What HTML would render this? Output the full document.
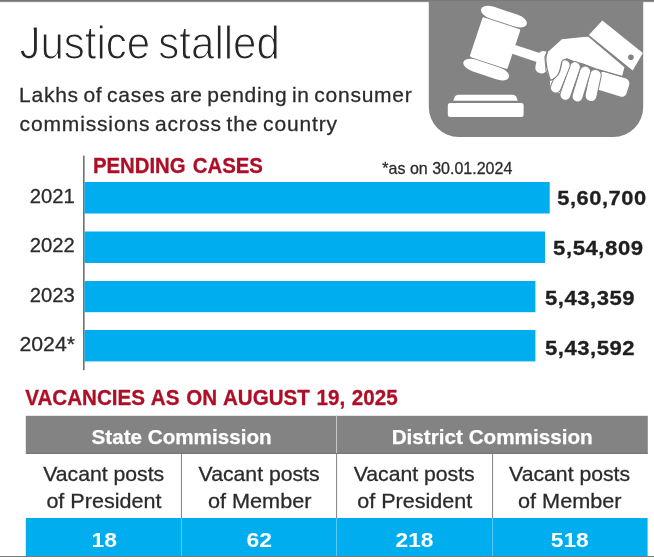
<!DOCTYPE html>
<html lang="en">
<head>
<meta charset="utf-8">
<title>Justice stalled</title>
<style>
  html, body { margin: 0; padding: 0; background: #fff; }
  body { width: 654px; height: 560px; overflow: hidden; }
  svg { display: block; will-change: transform; }
  text { font-family: "Liberation Sans", sans-serif; }
  .b { font-weight: bold; }
  .red { fill: #ae0f27; }
  .dk { fill: #2b2b2b; stroke: #2b2b2b; stroke-width: 0.28px; }
  .w { fill: #fff; }
</style>
</head>
<body>
<svg width="654" height="560" viewBox="0 0 654 560">
  <defs>
    <linearGradient id="topb" x1="0" y1="0" x2="0" y2="1">
      <stop offset="0" stop-color="#666"/>
      <stop offset="1" stop-color="#a5a5a5"/>
    </linearGradient>
  </defs>
  <rect x="0" y="0" width="654" height="560" fill="#fff"/>

  <!-- top rule -->
  <rect x="0" y="0" width="654" height="2.2" fill="url(#topb)"/>

  <!-- icon box -->
  <path d="M428.8,0 H643.2 V107 A30,30 0 0 1 613.2,137 H458.8 A30,30 0 0 1 428.8,107 Z" fill="#838383"/>
  <rect x="428.8" y="0" width="214.4" height="1" fill="#7a7a7a"/>

  <!-- gavel icon -->
  <g id="icon" fill="#fff">
    <!-- mallet head : crop A frame -->
    <g transform="translate(455,0) scale(0.15175)">
      <g transform="translate(264,284) rotate(18.5)">
        <rect x="125" y="-31" width="190" height="62"/>
        <rect x="-131" y="-138" width="262" height="276" rx="10"/>
        <rect x="-158" y="-224" width="316" height="80" rx="75" ry="40"/>
        <rect x="-158" y="144" width="316" height="80" rx="75" ry="40"/>
      </g>
    </g>
    <!-- sound block -->
    <path d="M458.5,94.8 H512.5 Q515.5,94.8 516.6,97.6 L517.8,100.8 H453.2 L454.4,97.6 Q455.5,94.8 458.5,94.8 Z"/>
    <rect x="447.8" y="103" width="75.8" height="14" rx="2.5"/>
    <!-- handle end -->
    <rect x="-16" y="-9.4" width="32" height="18.8" rx="5" transform="translate(612.6,84.3) rotate(17)"/>
    <!-- cuff -->
    <polygon points="602.3,20.4 642.9,52.9 632.7,70.4 588.9,35"/>
    <circle cx="630.9" cy="57.3" r="2.8" fill="#838383"/>
    <!-- ferrule -->
    <rect x="-6" y="-10.6" width="12" height="22.4" rx="5.5" transform="translate(542.6,61.6) rotate(12)"/>
    <!-- hand back -->
    <path d="M561.5,38.7 L588.4,35.9 L625.2,67 L622.6,76.6 L595.7,68.9 L582.3,63.8 L574.2,61.8 L566.9,58.8 L562.2,60.6 L560.2,74.2 L550.1,80.7 L546.1,70.2 L545,56.8 L547.4,51.4 Z" stroke="#838383" stroke-width="1.3" stroke-linejoin="round"/>
    <!-- fingers -->
    <path d="M549.1,79.4 L550.2,89.6 Q551,91.6 555,92.8 L560,93.9 L564,82.5 L555.6,78 Z" stroke="#838383" stroke-width="1" stroke-linejoin="round"/>
    <g stroke="#838383" stroke-width="1">
      <rect x="-5.9" y="-15.6" width="11.8" height="32.4" rx="5.6" transform="translate(593.3,84.9) rotate(12)"/>
      <rect x="-5.45" y="-17.5" width="10.9" height="37" rx="5.4" transform="translate(581.6,83.1) rotate(17)"/>
      <rect x="-5.45" y="-19.1" width="10.9" height="40.2" rx="5.4" transform="translate(570.5,80) rotate(19)"/>
      <rect x="-5.3" y="-16.7" width="10.6" height="35" rx="5.3" transform="translate(560.6,75.7) rotate(22)"/>
    </g>
    <!-- thumb -->
    <path d="M547.6,52 L545.4,57 L546.4,70 L550.3,80.3 C558,77 560,72 561.9,61 L564,50 Z" stroke="none"/>
    <path d="M547.6,52 C544.6,56 545.6,66 550.3,80.3 C558.5,77.5 560.3,72 561.9,61.2" fill="none" stroke="#838383" stroke-width="1.35"/>
  </g>

  <!-- title -->
  <text x="19.4" y="59.2" font-size="46.6" fill="#262626" stroke="#fff" stroke-width="1.15" style="word-spacing:-4px" textLength="260.5" lengthAdjust="spacingAndGlyphs">Justice stalled</text>

  <rect x="26" y="26" width="7.7" height="4.2" fill="#fff"/>

  <!-- sub -->
  <text x="19.1" y="102" font-size="21" class="dk" style="word-spacing:-2px;letter-spacing:0.745px">Lakhs of cases are pending in consumer</text>
  <text x="19.6" y="131.3" font-size="21" class="dk" style="word-spacing:-2px;letter-spacing:0.85px">commissions across the country</text>

  <!-- chart -->
  <rect x="83" y="155.6" width="1.6" height="214.6" fill="#707070"/>
  <g fill="#00adee">
    <rect x="84.5" y="182" width="465.2" height="31.5"/>
    <rect x="84.5" y="231.5" width="460.5" height="31.5"/>
    <rect x="84.5" y="281" width="450.9" height="31.2"/>
    <rect x="84.5" y="330" width="450.9" height="31.4"/>
  </g>
  <text x="92.9" y="173.4" font-size="21.6" class="b red" stroke="#ae0f27" stroke-width="0.3" style="word-spacing:1.5px" textLength="170" lengthAdjust="spacingAndGlyphs">PENDING CASES</text>
  <text x="382.3" y="173.5" font-size="16.2" class="dk" textLength="130" lengthAdjust="spacingAndGlyphs">*as on 30.01.2024</text>

  <g font-size="19.5" class="dk" text-anchor="end">
    <text x="74.7" y="202.7" textLength="45" lengthAdjust="spacingAndGlyphs">2021</text>
    <text x="74.7" y="252.1" textLength="45" lengthAdjust="spacingAndGlyphs">2022</text>
    <text x="74.7" y="301.8" textLength="45" lengthAdjust="spacingAndGlyphs">2023</text>
    <text x="75" y="351.4" textLength="55.5" lengthAdjust="spacingAndGlyphs">2024*</text>
  </g>
  <g font-size="20.2" class="b" fill="#1f1f1f" stroke="#1f1f1f" stroke-width="0.3" style="letter-spacing:0.5px">
    <text x="557.2" y="204.8" textLength="89.5" lengthAdjust="spacingAndGlyphs">5,60,700</text>
    <text x="553.1" y="254.6" textLength="90.5" lengthAdjust="spacingAndGlyphs">5,54,809</text>
    <text x="544.9" y="304.8" textLength="90.3" lengthAdjust="spacingAndGlyphs">5,43,359</text>
    <text x="544.9" y="355" textLength="90.3" lengthAdjust="spacingAndGlyphs">5,43,592</text>
  </g>

  <!-- vacancies -->
  <text x="25.2" y="404.7" font-size="21.6" class="b red" stroke="#ae0f27" stroke-width="0.3" style="word-spacing:1px" textLength="372.5" lengthAdjust="spacingAndGlyphs">VACANCIES AS ON AUGUST 19, 2025</text>

  <rect x="25.8" y="415.8" width="622" height="38" fill="#838383"/>
  <rect x="25.8" y="452.9" width="622" height="0.9" fill="#707070"/>
  <rect x="336" y="415.8" width="1.1" height="37.2" fill="#c4c4c4"/>
  <g font-size="21" class="b w" text-anchor="middle" stroke="#fff" stroke-width="0.25">
    <text x="181.6" y="443.7" textLength="180" lengthAdjust="spacingAndGlyphs">State Commission</text>
    <text x="492.2" y="443.7" textLength="201" lengthAdjust="spacingAndGlyphs">District Commission</text>
  </g>

  <g fill="#808080">
    <rect x="180.9" y="453.8" width="1" height="64.4"/>
    <rect x="336.1" y="453.8" width="1" height="64.4"/>
    <rect x="492.1" y="453.8" width="1" height="64.4"/>
  </g>

  <g font-size="20.4" class="dk" text-anchor="middle">
    <text x="103.7" y="481.2" textLength="121" lengthAdjust="spacingAndGlyphs">Vacant posts</text>
    <text x="103.9" y="507.7" textLength="115" lengthAdjust="spacingAndGlyphs">of President</text>
    <text x="259.1" y="481.2" textLength="121" lengthAdjust="spacingAndGlyphs">Vacant posts</text>
    <text x="259.7" y="507.7" textLength="103.5" lengthAdjust="spacingAndGlyphs">of Member</text>
    <text x="414.2" y="481.2" textLength="121" lengthAdjust="spacingAndGlyphs">Vacant posts</text>
    <text x="414.8" y="507.7" textLength="115" lengthAdjust="spacingAndGlyphs">of President</text>
    <text x="569.6" y="481.2" textLength="121" lengthAdjust="spacingAndGlyphs">Vacant posts</text>
    <text x="569.8" y="507.7" textLength="103.5" lengthAdjust="spacingAndGlyphs">of Member</text>
  </g>

  <rect x="25.8" y="518" width="621.8" height="38.2" fill="#00adee"/>
  <g fill="#5fcaf3">
    <rect x="180.9" y="518" width="1" height="38"/>
    <rect x="336.1" y="518" width="1" height="38"/>
    <rect x="492.1" y="518" width="1" height="38"/>
  </g>
  <g font-size="19.5" class="b w" text-anchor="middle">
    <text x="104.3" y="546.7" textLength="25.5" lengthAdjust="spacingAndGlyphs">18</text>
    <text x="259.3" y="546.7" textLength="25.5" lengthAdjust="spacingAndGlyphs">62</text>
    <text x="414.5" y="546.7" textLength="38" lengthAdjust="spacingAndGlyphs">218</text>
    <text x="569.8" y="546.7" textLength="38" lengthAdjust="spacingAndGlyphs">518</text>
  </g>

  <!-- bottom rule -->
  <rect x="0" y="556" width="654" height="1" fill="#7a7a7a"/>
</svg>
</body>
</html>
